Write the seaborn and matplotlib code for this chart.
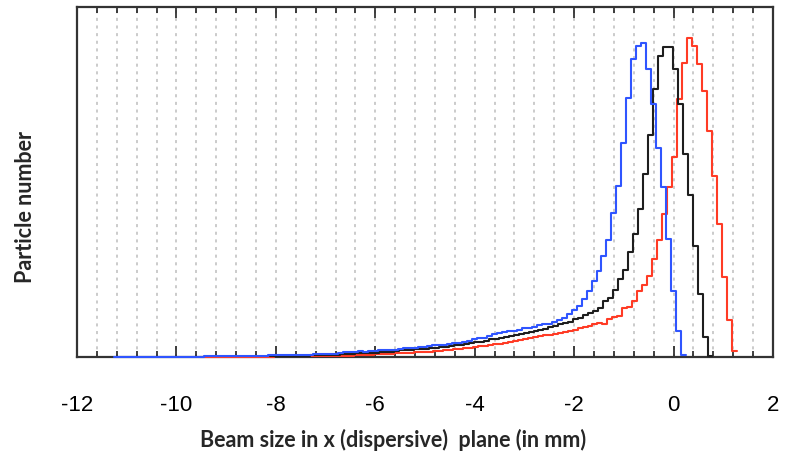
import numpy as np
import pandas as pd
import matplotlib
matplotlib.use("Agg")
import matplotlib.pyplot as plt
import seaborn as sns
from matplotlib.ticker import MultipleLocator

# ---- data (bin heights, arbitrary particle-count units) ----
bin_width = 0.1

blue_first_edge = -11.25
blue_counts = [
    0, 0, 0, 0, 0, 0, 0, 0, 0, 0, 0, 0, 0, 0, 0, 0, 0, 0,
    1, 1, 1, 0.5, 1, 1, 1, 1, 1, 1,
    1, 1, 1, 1.5, 1.5, 1.5, 1.5, 2, 1.5, 2,
    2, 2, 2.5, 3, 3, 3, 3, 3.5, 4.5, 5,
    5, 5.5, 5, 5.5, 6, 6.5, 7, 7, 6.5, 7.5,
    8.5, 9, 9, 9.5, 10, 10.5, 11.5, 12, 12, 13,
    13.5, 14, 15, 16, 18, 19, 19, 21, 23, 24,
    25, 26, 26, 27, 29, 29, 30, 32, 33, 33,
    35, 37, 39, 43, 47, 51, 58, 66, 76, 86,
    101, 117, 144, 171, 214, 259, 298, 311, 314, 288,
    253, 209, 170, 118, 66, 26, 2,
]

black_first_edge = -8.117
black_counts = [
    1, 1, 1, 1, 1, 1, 1, 1,
    1.5, 1.5, 1.5, 1.5, 2, 2, 2.5, 2.5, 3, 3.5,
    3.5, 3.5, 4, 4, 4.5, 4.5, 5, 6, 6.5, 6.5,
    7, 7.5, 8, 8, 8.5, 9, 9.5, 10, 11, 11.5,
    12, 13, 13.5, 14.5, 15, 16, 17.5, 18, 19, 20,
    21, 22, 23, 24, 25, 26, 27, 28, 30, 31,
    33, 34, 35, 38, 39, 42, 44, 46, 49, 56,
    59, 67, 78, 87, 105, 123, 148, 183, 222, 268,
    301, 310, 310, 288, 253, 203, 162, 111, 63, 20,
    1,
]

red_first_edge = -9.531
red_counts = [
    0, 0, 0, 0, 0, 0, 0, 0, 0, 0, 0, 0, 0, 0, 0,
    0.5, 0.5, 0.5, 0.5, 0.5, 0.5, 0.5, 0.5, 0.5, 0.5, 0.5, 0.5, 0.5,
    1, 1, 1, 1.5, 1.5, 2, 2, 2.5, 2.5, 3,
    3, 3.5, 3.5, 4, 4, 4.5, 4.5, 5, 5, 5.5,
    6, 6.5, 7, 7.5, 8, 8.5, 9, 10, 10.5, 11,
    12, 12.5, 13, 13.5, 14.5, 15.5, 16.5, 17.5, 18.5, 19.5,
    20.5, 21.5, 22, 23, 24, 25, 26, 27, 29, 30,
    31, 33, 34, 33, 38, 40, 41, 49, 50, 56,
    66, 72, 81, 98, 117, 143, 170, 200, 258, 294,
    319, 311, 293, 266, 226, 181, 133, 80, 37, 6,
]

x_ticks = [-12, -10, -8, -6, -4, -2, 0, 2]
x_label = "Beam size in x (dispersive)  plane (in mm)"
y_label = "Particle number"

series = [
    ("red", red_first_edge, red_counts, "#ff3b25"),
    ("black", black_first_edge, black_counts, "#1e1e1e"),
    ("blue", blue_first_edge, blue_counts, "#2f55ff"),
]

# ---- style ----
sns.set_theme(style="white")
plt.rcParams["font.family"] = ["Liberation Sans", "DejaVu Sans"]
plt.rcParams["axes.unicode_minus"] = False

fig = plt.figure(figsize=(7.86, 4.54), dpi=100)
ax = fig.add_axes([77 / 786, 1 - 356.5 / 454, (773 - 77) / 786, 350 / 454])

for name, first_edge, counts, color in series:
    edges = [float(first_edge + bin_width * k) for k in range(len(counts) + 1)]
    centers = [e + bin_width / 2 for e in edges[:-1]]
    df = pd.DataFrame({"x": centers, "w": counts})
    n_before = len(ax.lines)
    sns.histplot(data=df, x="x", weights="w", bins=edges, element="step",
                 fill=False, color=color, linewidth=1.5, ax=ax)
    for ln in ax.lines[n_before:]:
        ln.set_clip_on(False)
        ln.set_zorder(3)

ax.set_xlim(-12, 2)
ax.set_ylim(0, 350)
ax.set_xticks(x_ticks)
ax.set_xticklabels([str(t) for t in x_ticks])
ax.xaxis.set_minor_locator(MultipleLocator(0.4))
ax.set_yticks([])
ax.set_xlabel("")
ax.set_ylabel("")

ax.grid(False)
ax.grid(which="both", axis="x", color="#bdbdbd", linestyle=(0, (2, 3)),
        linewidth=1.1)
ax.set_axisbelow(True)

ax.tick_params(axis="x", which="both", direction="in", top=True, bottom=True,
               colors="#222222", labelcolor="black")
ax.tick_params(axis="x", which="major", length=8, width=1.2, labelsize=16,
               pad=28)
ax.tick_params(axis="x", which="minor", length=4.5, width=1.2)

for sp in ax.spines.values():
    sp.set_color("#333333")
    sp.set_linewidth(1.6)
    sp.set_zorder(2.5)

fig.text(393 / 786, 1 - 440 / 454, x_label, ha="center", va="center",
         fontsize=15.5, fontweight="bold", family=["Lato", "DejaVu Sans"])
fig.text(26 / 786, 1 - 207 / 454, y_label, ha="center", va="center",
         rotation=90, fontsize=15.5, fontweight="bold",
         family=["Lato", "DejaVu Sans"])

fig.savefig("out.png", dpi=100)
